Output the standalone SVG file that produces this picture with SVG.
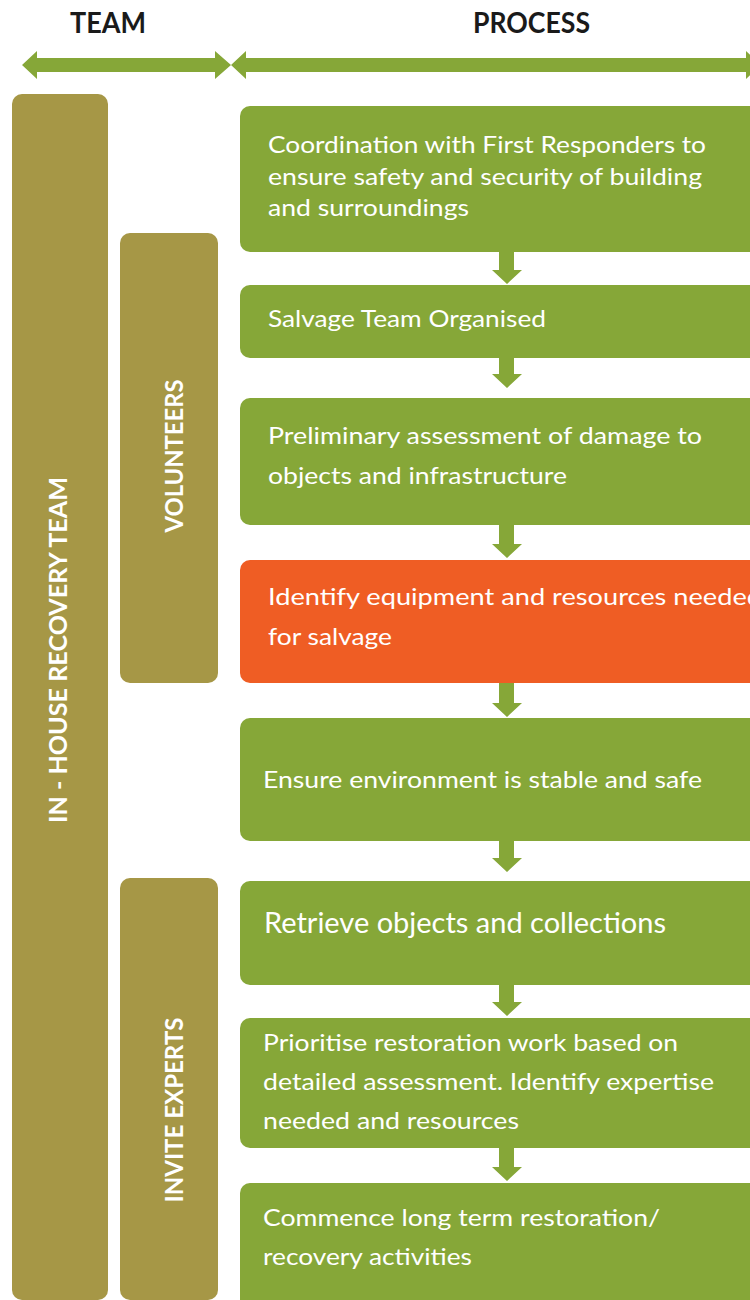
<svg xmlns="http://www.w3.org/2000/svg" width="750" height="1300" viewBox="0 0 750 1300">
<style>
.hdr{font-family:Lato,"Liberation Sans",sans-serif;font-weight:bold;font-size:28px;fill:#1a1a1a;}
.team{fill:#a69746;}
.proc{fill:#86a738;}
.alert{fill:#ef5d24;}
.lbl{font-family:Lato,"Liberation Sans",sans-serif;font-weight:bold;font-size:25px;fill:#ffffff;}
.txt{font-family:Lato,"Open Sans",sans-serif;font-size:23px;fill:#ffffff;}
.big{font-size:28px;}
.arr{fill:#86a738;}
</style>
<rect width="750" height="1300" fill="#ffffff"/>
<g id="headers">
<text class="hdr" x="70" y="33" textLength="76" lengthAdjust="spacingAndGlyphs">TEAM</text>
<text class="hdr" x="473" y="33" textLength="117" lengthAdjust="spacingAndGlyphs">PROCESS</text>
</g>
<g id="team-arrow">
<polygon class="arr" points="22,65 37,51 37,58 215,58 215,51 231,65 215,79 215,72 37,72 37,79"/>
</g>
<g id="process-arrow">
<polygon class="arr" points="231,65 246,51 246,58 746,58 746,51 761,65 746,79 746,72 246,72 246,79"/>
</g>
<g id="in-house-team">
<rect class="team" x="12" y="94" width="96" height="1206" rx="10"/>
<text class="lbl" transform="translate(67,650) rotate(-90)" x="0" y="0" text-anchor="middle" textLength="346" lengthAdjust="spacingAndGlyphs">IN - HOUSE RECOVERY TEAM</text>
</g>
<g id="volunteers">
<rect class="team" x="120" y="233" width="98" height="450" rx="10"/>
<text class="lbl" transform="translate(183,456) rotate(-90)" x="0" y="0" text-anchor="middle" textLength="153" lengthAdjust="spacingAndGlyphs">VOLUNTEERS</text>
</g>
<g id="invite-experts">
<rect class="team" x="120" y="878" width="98" height="422" rx="10"/>
<text class="lbl" transform="translate(183,1110) rotate(-90)" x="0" y="0" text-anchor="middle" textLength="185" lengthAdjust="spacingAndGlyphs">INVITE EXPERTS</text>
</g>
<g id="connectors">
<polygon class="arr" points="499,252 514,252 514,270 522,270 507,284 492,270 499,270"/>
<polygon class="arr" points="499,358 514,358 514,374 522,374 507,388 492,374 499,374"/>
<polygon class="arr" points="499,525 514,525 514,544 522,544 507,558 492,544 499,544"/>
<polygon class="arr" points="499,683 514,683 514,703 522,703 507,717 492,703 499,703"/>
<polygon class="arr" points="499,841 514,841 514,858 522,858 507,872 492,858 499,858"/>
<polygon class="arr" points="499,985 514,985 514,1002 522,1002 507,1016 492,1002 499,1002"/>
<polygon class="arr" points="499,1148 514,1148 514,1167 522,1167 507,1181 492,1167 499,1167"/>
</g>
<g id="step1">
<rect class="proc" x="240" y="106" width="530" height="146" rx="10"/>
<text class="txt" x="268" y="153" textLength="438" lengthAdjust="spacingAndGlyphs">Coordination with First Responders to</text>
<text class="txt" x="268" y="185" textLength="434" lengthAdjust="spacingAndGlyphs">ensure safety and security of building</text>
<text class="txt" x="268" y="216" textLength="201" lengthAdjust="spacingAndGlyphs">and surroundings</text>
</g>
<g id="step2">
<rect class="proc" x="240" y="285" width="530" height="73" rx="10"/>
<text class="txt" x="268" y="327" textLength="278" lengthAdjust="spacingAndGlyphs">Salvage Team Organised</text>
</g>
<g id="step3">
<rect class="proc" x="240" y="398" width="530" height="127" rx="10"/>
<text class="txt" x="268" y="444" textLength="434" lengthAdjust="spacingAndGlyphs">Preliminary assessment of damage to</text>
<text class="txt" x="268" y="484" textLength="299" lengthAdjust="spacingAndGlyphs">objects and infrastructure</text>
</g>
<g id="step4">
<rect class="alert" x="240" y="560" width="530" height="123" rx="10"/>
<text class="txt" x="268" y="605" textLength="494" lengthAdjust="spacingAndGlyphs">Identify equipment and resources needed</text>
<text class="txt" x="268" y="645" textLength="124" lengthAdjust="spacingAndGlyphs">for salvage</text>
</g>
<g id="step5">
<rect class="proc" x="240" y="718" width="530" height="123" rx="10"/>
<text class="txt" x="263" y="788" textLength="439" lengthAdjust="spacingAndGlyphs">Ensure environment is stable and safe</text>
</g>
<g id="step6">
<rect class="proc" x="240" y="881" width="530" height="104" rx="10"/>
<text class="txt big" x="264" y="933" textLength="402" lengthAdjust="spacingAndGlyphs">Retrieve objects and collections</text>
</g>
<g id="step7">
<rect class="proc" x="240" y="1018" width="530" height="130" rx="10"/>
<text class="txt" x="263" y="1051" textLength="415" lengthAdjust="spacingAndGlyphs">Prioritise restoration work based on</text>
<text class="txt" x="263" y="1090" textLength="451" lengthAdjust="spacingAndGlyphs">detailed assessment. Identify expertise</text>
<text class="txt" x="263" y="1129" textLength="256" lengthAdjust="spacingAndGlyphs">needed and resources</text>
</g>
<g id="step8">
<rect class="proc" x="240" y="1183" width="530" height="130" rx="10"/>
<text class="txt" x="263" y="1226" textLength="397" lengthAdjust="spacingAndGlyphs">Commence long term restoration/</text>
<text class="txt" x="263" y="1265" textLength="209" lengthAdjust="spacingAndGlyphs">recovery activities</text>
</g>
</svg>
